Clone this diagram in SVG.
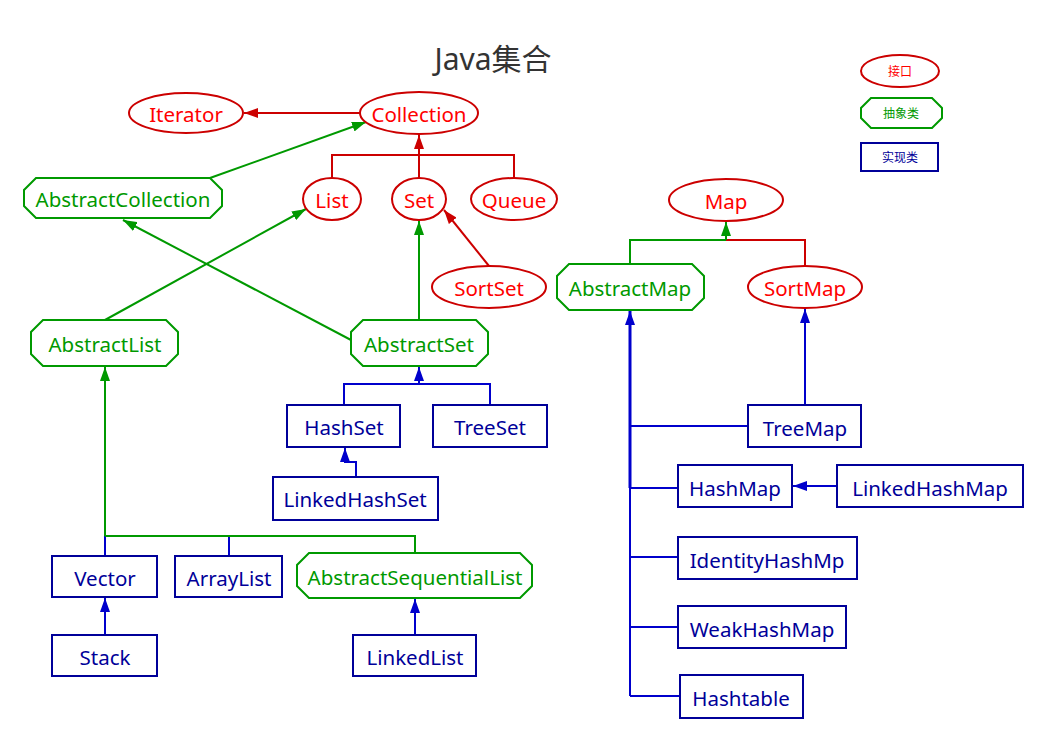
<svg xmlns="http://www.w3.org/2000/svg" width="1048" height="742" viewBox="0 0 1048 742">
<defs>
<style>
text{font-family:"Noto Sans","Noto Sans CJK SC",sans-serif;font-size:20.5px;text-anchor:middle;dominant-baseline:central}
.i ellipse{fill:#fff;stroke:#cc0000;stroke-width:2}
.i text{fill:#ff0000}
.a polygon{fill:#fff;stroke:#009900;stroke-width:2}
.a text{fill:#009900}
.c rect{fill:#fff;stroke:#000099;stroke-width:2}
.c text{fill:#000099}
.r{stroke:#cc0000;stroke-width:2;fill:none}
.g{stroke:#009900;stroke-width:2;fill:none}
.b{stroke:#0000cc;stroke-width:2;fill:none}
.lg text{font-size:12px}
</style>
<marker id="mr" viewBox="0 0 14 10" refX="14" refY="5" markerWidth="14" markerHeight="10" markerUnits="userSpaceOnUse" orient="auto"><path d="M0,0L14,5L0,10z" fill="#cc0000"/></marker>
<marker id="mg" viewBox="0 0 14 10" refX="14" refY="5" markerWidth="14" markerHeight="10" markerUnits="userSpaceOnUse" orient="auto"><path d="M0,0L14,5L0,10z" fill="#009900"/></marker>
<marker id="mb" viewBox="0 0 14 10" refX="14" refY="5" markerWidth="14" markerHeight="10" markerUnits="userSpaceOnUse" orient="auto"><path d="M0,0L14,5L0,10z" fill="#0000cc"/></marker>
</defs>
<rect width="1048" height="742" fill="#fff"/>
<text x="493" y="58" style="font-size:30px;fill:#333">Java集合</text>

<g id="connectors">
<path class="r" d="M360,113H244" marker-end="url(#mr)"/>
<path class="r" d="M332,178V155H514V178M419,178V135" marker-end="url(#mr)"/>
<path class="g" d="M210,178L366,122" marker-end="url(#mg)"/>
<path class="r" d="M489,266L444,210" marker-end="url(#mr)"/>
<path class="g" d="M105,320L306,209" marker-end="url(#mg)"/>
<path class="g" d="M351,340L123,220" marker-end="url(#mg)"/>
<path class="g" d="M419,320V221" marker-end="url(#mg)"/>
<path class="b" d="M344,405V384H490V405M419,384V367" marker-end="url(#mb)"/>
<path class="b" d="M356,477V462H345V448" marker-end="url(#mb)"/>
<path class="b" d="M105,556V536M229,556V536"/>
<path class="g" d="M105,536H415V553M105,536V367" marker-end="url(#mg)"/>
<path class="b" d="M105,635V598" marker-end="url(#mb)"/>
<path class="b" d="M415,635V599" marker-end="url(#mb)"/>
<path class="g" d="M630,264V240H726"/>
<path class="r" d="M805,266V240H726"/>
<path class="g" d="M726,240V222" marker-end="url(#mg)"/>
<path class="b" d="M805,405V309" marker-end="url(#mb)"/>
<path class="b" d="M630,426H748M630,488H678M630,557H678M630,627H678M630,696H680M630,488V696"/>
<path class="b" style="stroke-width:3" d="M630,488V311" marker-end="url(#mb)"/>
<path class="b" d="M837,486H793" marker-end="url(#mb)"/>
</g>

<g id="Iterator" class="i"><ellipse cx="186" cy="113" rx="57" ry="20"/><text x="186" y="114">Iterator</text></g>
<g id="Collection" class="i"><ellipse cx="419" cy="113" rx="59" ry="21"/><text x="419" y="114">Collection</text></g>
<g id="AbstractCollection" class="a"><polygon points="36,178 210,178 222,190 222,206 210,218 36,218 24,206 24,190"/><text x="123" y="199">AbstractCollection</text></g>
<g id="List" class="i"><ellipse cx="332" cy="199" rx="29" ry="21"/><text x="332" y="200">List</text></g>
<g id="Set" class="i"><ellipse cx="419" cy="199" rx="27" ry="21"/><text x="419" y="200">Set</text></g>
<g id="Queue" class="i"><ellipse cx="514" cy="199" rx="43" ry="21"/><text x="514" y="200">Queue</text></g>
<g id="SortSet" class="i"><ellipse cx="489" cy="287" rx="57" ry="21"/><text x="489" y="288">SortSet</text></g>
<g id="AbstractList" class="a"><polygon points="43,320 166,320 178,332 178,354 166,366 43,366 31,354 31,332"/><text x="105" y="344">AbstractList</text></g>
<g id="AbstractSet" class="a"><polygon points="363,320 476,320 488,332 488,354 476,366 363,366 351,354 351,332"/><text x="419" y="344">AbstractSet</text></g>
<g id="HashSet" class="c"><rect x="287" y="405" width="113" height="42"/><text x="344" y="427">HashSet</text></g>
<g id="TreeSet" class="c"><rect x="433" y="405" width="114" height="42"/><text x="490" y="427">TreeSet</text></g>
<g id="LinkedHashSet" class="c"><rect x="273" y="477" width="165" height="43"/><text x="355" y="499">LinkedHashSet</text></g>
<g id="Vector" class="c"><rect x="52" y="556" width="105" height="41"/><text x="105" y="578">Vector</text></g>
<g id="ArrayList" class="c"><rect x="175" y="556" width="107" height="41"/><text x="229" y="578">ArrayList</text></g>
<g id="AbstractSequentialList" class="a"><polygon points="309,553 520,553 532,565 532,586 520,598 309,598 297,586 297,565"/><text x="415" y="577">AbstractSequentialList</text></g>
<g id="Stack" class="c"><rect x="52" y="635" width="105" height="41"/><text x="105" y="657">Stack</text></g>
<g id="LinkedList" class="c"><rect x="353" y="635" width="123" height="41"/><text x="415" y="657">LinkedList</text></g>
<g id="Map" class="i"><ellipse cx="726" cy="200" rx="57" ry="21"/><text x="726" y="201">Map</text></g>
<g id="AbstractMap" class="a"><polygon points="569,264 692,264 704,276 704,298 692,310 569,310 557,298 557,276"/><text x="630" y="288">AbstractMap</text></g>
<g id="SortMap" class="i"><ellipse cx="805" cy="287" rx="57" ry="21"/><text x="805" y="288">SortMap</text></g>
<g id="TreeMap" class="c"><rect x="748" y="405" width="113" height="42"/><text x="805" y="428">TreeMap</text></g>
<g id="HashMap" class="c"><rect x="678" y="465" width="114" height="42"/><text x="735" y="488">HashMap</text></g>
<g id="LinkedHashMap" class="c"><rect x="837" y="465" width="186" height="42"/><text x="930" y="488">LinkedHashMap</text></g>
<g id="IdentityHashMp" class="c"><rect x="678" y="537" width="179" height="42"/><text x="767" y="560">IdentityHashMp</text></g>
<g id="WeakHashMap" class="c"><rect x="678" y="606" width="168" height="42"/><text x="762" y="629">WeakHashMap</text></g>
<g id="Hashtable" class="c"><rect x="680" y="675" width="123" height="43"/><text x="741" y="698">Hashtable</text></g>

<g id="legend" class="lg">
<g id="legend-interface" class="i"><ellipse cx="900" cy="71" rx="39" ry="16"/><text x="900" y="71">接口</text></g>
<g id="legend-abstract" class="a"><polygon points="871,98 932,98 942,108 942,118 932,128 871,128 861,118 861,108"/><text x="901" y="113">抽象类</text></g>
<g id="legend-class" class="c"><rect x="861" y="143" width="77" height="28"/><text x="900" y="157">实现类</text></g>
</g>
</svg>
